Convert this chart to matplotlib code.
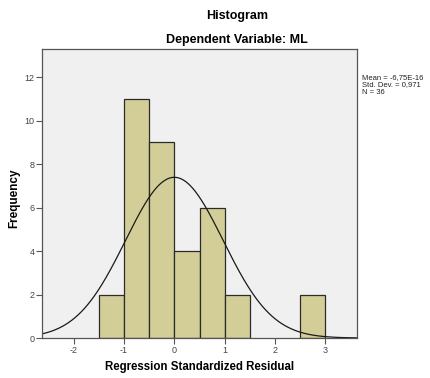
import numpy as np
import matplotlib
matplotlib.use('Agg')
import matplotlib.pyplot as plt

# histogram bins (regression standardized residual) and counts
bin_edges = [-1.5, -1.0, -0.5, 0.0, 0.5, 1.0, 1.5, 2.0, 2.5, 3.0]
counts = [2, 11, 9, 4, 6, 2, 0, 0, 2]

mean_val = -6.75e-16
std_val = 0.971
n_obs = 36

plt.rcParams['font.family'] = ['Liberation Sans', 'DejaVu Sans']
plt.rcParams['axes.unicode_minus'] = False

fig = plt.figure(figsize=(4.3, 3.78), dpi=100)
ax = fig.add_axes([42 / 430, 1 - 338 / 378, 315 / 430, 289 / 378])
ax.set_facecolor('#F0F0F0')

widths = np.diff(bin_edges)
for left, w, c in zip(bin_edges[:-1], widths, counts):
    if c > 0:
        ax.bar(left, c, width=w, align='edge', color='#D3CE97',
               edgecolor='#2B2B2B', linewidth=0.9)

# normal curve scaled to counts
xs = np.linspace(-2.63, 3.63, 400)
scale = n_obs * 0.5
pdf = np.exp(-0.5 * ((xs - mean_val) / std_val) ** 2) / (std_val * np.sqrt(2 * np.pi))
ax.plot(xs, scale * pdf, color='#1A1A1A', linewidth=0.9)

ax.set_xlim(-2.63, 3.63)
ax.set_ylim(0, 13.3)
ax.set_xticks([-2, -1, 0, 1, 2, 3])
ax.set_yticks([0, 2, 4, 6, 8, 10, 12])
ax.tick_params(direction='out', length=4, width=0.8, labelsize=6.5,
               colors='#555555', labelcolor='#444444', pad=1.5)
for s in ax.spines.values():
    s.set_color('#555555')
    s.set_linewidth(0.9)

fig.text(237 / 430, 1 - 16 / 378, 'Histogram', ha='center', va='center',
         fontsize=9, fontweight='bold')
fig.text(237 / 430, 1 - 40 / 378, 'Dependent Variable: ML', ha='center', va='center',
         fontsize=9, fontweight='bold')
fig.text(200 / 430, 1 - 367 / 378, 'Regression Standardized Residual', ha='center',
         va='center', fontsize=8.3, fontweight='bold')
fig.text(14 / 430, 1 - 198 / 378, 'Frequency', ha='center', va='center',
         rotation=90, fontsize=8.5, fontweight='bold')
fig.text(362 / 430, 1 - 74 / 378,
         'Mean = -6,75E-16\nStd. Dev. = 0,971\nN = %d' % n_obs,
         ha='left', va='top', fontsize=5.5, linespacing=1.05, color='#222222')

fig.savefig('out.png', dpi=100)
